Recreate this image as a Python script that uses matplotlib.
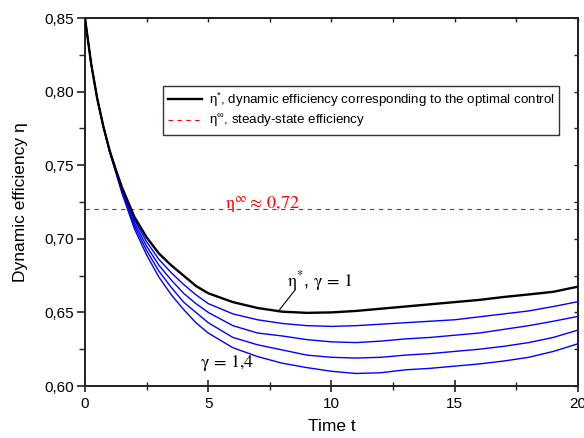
import matplotlib
matplotlib.use("Agg")
import matplotlib.pyplot as plt
from matplotlib.ticker import MultipleLocator, FuncFormatter

# data -------------------------------------------------------------
t = [0, 0.25, 0.5, 0.75, 1, 1.25, 1.5, 1.75, 2, 2.5, 3, 3.5, 4, 4.5, 5,
     6, 7, 8, 9, 10, 11, 12, 13, 14, 15, 16, 17, 18, 19, 20]

eta_opt = [0.850, 0.819, 0.795, 0.776, 0.760, 0.747, 0.735, 0.725, 0.715,
           0.701, 0.690, 0.682, 0.675, 0.668, 0.663, 0.657, 0.653, 0.6505,
           0.6497, 0.650, 0.651, 0.6525, 0.654, 0.6555, 0.657, 0.6585,
           0.6605, 0.6622, 0.664, 0.6675]

eta_g11 = [0.850, 0.819, 0.795, 0.776, 0.760, 0.747, 0.734, 0.724, 0.713,
           0.698, 0.686, 0.677, 0.669, 0.662, 0.656, 0.649, 0.645, 0.6425,
           0.641, 0.6405, 0.641, 0.642, 0.643, 0.644, 0.645, 0.647, 0.649,
           0.651, 0.654, 0.6573]

eta_g12 = [0.850, 0.819, 0.795, 0.776, 0.760, 0.746, 0.733, 0.722, 0.711,
           0.695, 0.682, 0.672, 0.663, 0.656, 0.650, 0.641, 0.636, 0.634,
           0.6315, 0.630, 0.6295, 0.6305, 0.632, 0.633, 0.6345, 0.636,
           0.6385, 0.641, 0.644, 0.6473]

eta_g13 = [0.850, 0.819, 0.795, 0.776, 0.759, 0.746, 0.732, 0.721, 0.709,
           0.692, 0.678, 0.667, 0.657, 0.650, 0.643, 0.633, 0.628, 0.6245,
           0.621, 0.6195, 0.619, 0.6195, 0.621, 0.622, 0.6235, 0.625,
           0.627, 0.6295, 0.633, 0.638]

eta_g14 = [0.850, 0.819, 0.795, 0.776, 0.759, 0.745, 0.731, 0.719, 0.707,
           0.689, 0.674, 0.662, 0.652, 0.643, 0.636, 0.626, 0.620, 0.6155,
           0.6125, 0.610, 0.6085, 0.609, 0.611, 0.612, 0.6135, 0.615,
           0.617, 0.6195, 0.6235, 0.6287]

eta_inf = 0.72

blue_curves = [eta_g11, eta_g12, eta_g13, eta_g14]

# -------------------------------------------------------------------

plt.rcParams['font.family'] = ['Liberation Sans', 'DejaVu Sans']
plt.rcParams['mathtext.fontset'] = 'stix'

fig = plt.figure(figsize=(5.84, 4.38), dpi=100)
ax = fig.add_axes([0.1455, 0.1187, 0.8442, 0.8402])

for curve in blue_curves:
    ax.plot(t, curve, color='#0000ff', lw=1.0, zorder=2)

ax.plot(t, eta_opt, color='black', lw=1.7, zorder=3,
        label=r"$\mathregular{\eta^{*}}$, dynamic efficiency corresponding to the optimal control")
ax.axhline(eta_inf, color='red', ls=(0, (4, 4)), lw=0.8, zorder=1,
           label=r"$\mathregular{\eta^{\infty}}$, steady-state efficiency")

ax.set_xlim(0, 20)
ax.set_ylim(0.60, 0.85)

ax.xaxis.set_major_locator(MultipleLocator(5))
ax.xaxis.set_minor_locator(MultipleLocator(2.5))
ax.yaxis.set_major_locator(MultipleLocator(0.05))
ax.yaxis.set_minor_locator(MultipleLocator(0.025))
ax.yaxis.set_major_formatter(FuncFormatter(lambda v, p: f"{v:.2f}".replace('.', ',')))

spine_col = '#222222'
for s in ax.spines.values():
    s.set_linewidth(1.4)
    s.set_color(spine_col)

ax.tick_params(axis='y', which='major', direction='out', length=6, width=1.2,
               color=spine_col, labelsize=11, pad=2)
ax.tick_params(axis='y', which='minor', direction='out', length=4, width=1.0,
               color=spine_col)
ax.tick_params(axis='x', which='major', direction='inout', length=8, width=1.2,
               color=spine_col, labelsize=11, pad=4)
ax.tick_params(axis='x', which='minor', direction='inout', length=6, width=1.0,
               color=spine_col)

top = ax.secondary_xaxis('top')
top.xaxis.set_major_locator(MultipleLocator(2.5))
top.tick_params(direction='in', length=3, width=1.0, color=spine_col, labeltop=False)
right = ax.secondary_yaxis('right')
right.yaxis.set_major_locator(MultipleLocator(0.025))
right.tick_params(direction='in', length=3, width=1.0, color=spine_col, labelright=False)
for sec in (top, right):
    for s in sec.spines.values():
        s.set_linewidth(1.4)
        s.set_color(spine_col)

ax.set_xlabel("Time t", fontsize=12.5, labelpad=6)
ax.set_ylabel("Dynamic efficiency η", fontsize=12.5, labelpad=12)

leg = ax.legend(loc='upper left', bbox_to_anchor=(0.158, 0.815), fontsize=9.6,
                frameon=True, fancybox=False, borderpad=0.35, handlelength=2.6,
                handletextpad=0.5, labelspacing=0.3, borderaxespad=0)
leg.get_frame().set_edgecolor('black')
leg.get_frame().set_linewidth(1.0)

ax.text(7.2, 0.7207, r"$\mathrm{\eta}^{\infty}\approx\,0{,}72$", color='red',
        fontsize=13, ha='center', va='baseline')
ax.text(9.55, 0.6675, r"$\mathrm{\eta}^{*}$, $\mathrm{\gamma}\,=\,1$", fontsize=13,
        ha='center', va='baseline')
ax.plot([8.52, 7.83], [0.6652, 0.6505], color='black', lw=0.8)
ax.text(5.75, 0.6128, r"$\mathrm{\gamma}\,=\,1{,}4$", fontsize=13, ha='center',
        va='baseline')

fig.savefig("out.png", dpi=100)
